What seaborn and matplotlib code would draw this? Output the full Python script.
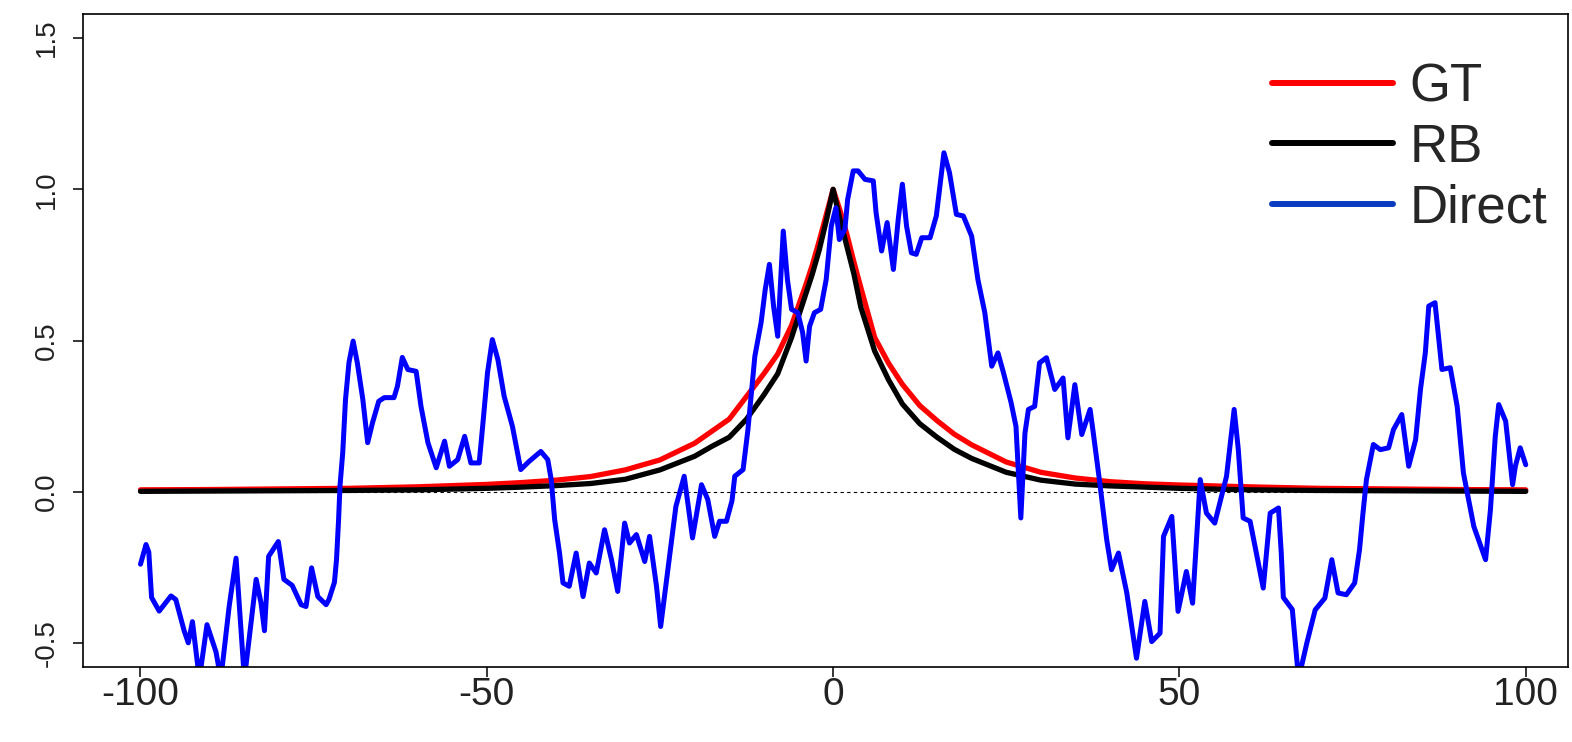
import matplotlib
matplotlib.use("Agg")
import matplotlib.pyplot as plt
from matplotlib.lines import Line2D
import seaborn as sns
import pandas as pd

# ---- data ----
curve_x = [-100, -90, -80, -70, -60, -50, -45, -40, -35, -30, -25, -20, -17.5, -15, -12.5,
           -10, -8, -6, -4, -3, -2, -1, 0, 1, 2, 3, 4, 6, 8, 10, 12.5, 15, 17.5, 20, 25,
           30, 35, 40, 45, 50, 60, 70, 80, 90, 100]
gt_y = [0.006, 0.007, 0.009, 0.011, 0.016, 0.024, 0.030, 0.038, 0.050, 0.072, 0.105, 0.160,
        0.200, 0.240, 0.315, 0.390, 0.455, 0.550, 0.680, 0.750, 0.830, 0.915, 1.000, 0.930,
        0.850, 0.760, 0.675, 0.510, 0.425, 0.355, 0.285, 0.235, 0.190, 0.155, 0.098, 0.064,
        0.045, 0.033, 0.026, 0.022, 0.016, 0.011, 0.009, 0.007, 0.006]
rb_y = [0.001, 0.002, 0.003, 0.004, 0.006, 0.011, 0.015, 0.020, 0.027, 0.041, 0.072, 0.117,
        0.150, 0.180, 0.240, 0.320, 0.390, 0.510, 0.650, 0.720, 0.800, 0.895, 1.000, 0.900,
        0.810, 0.720, 0.610, 0.465, 0.370, 0.290, 0.225, 0.180, 0.140, 0.110, 0.064, 0.038,
        0.025, 0.019, 0.015, 0.011, 0.006, 0.004, 0.003, 0.002, 0.001]

direct_x = [-100.0, -99.2, -98.8, -98.4, -97.3, -95.6, -94.9, -93.7, -93.1, -92.5, -91.5, -90.4,
            -89.1, -88.4, -87.2, -86.2, -85.0, -83.3, -82.6, -82.1, -81.5, -80.1, -79.3, -78.1,
            -76.8, -76.1, -75.3, -74.4, -73.2, -72.8, -72.0, -71.7, -71.4, -71.2, -70.8, -70.4,
            -69.9, -69.3, -68.7, -67.9, -67.2, -66.5, -65.6, -64.8, -63.4, -62.9, -62.2, -61.4,
            -60.2, -59.5, -58.5, -57.3, -56.1, -55.4, -54.2, -53.2, -52.3, -51.1, -50.6, -49.9,
            -49.2, -48.4, -47.5, -46.3, -45.1, -43.9, -42.2, -41.2, -40.7, -40.2, -39.5, -39.0,
            -38.1, -37.1, -36.1, -35.2, -34.2, -33.0, -32.0, -31.1, -30.1, -29.4, -28.4, -27.2,
            -26.5, -25.5, -24.9, -24.1, -22.7, -21.5, -20.3, -19.0, -18.1, -17.1, -16.4, -15.4,
            -14.6, -14.2, -13.0, -12.3, -11.3, -10.4, -9.8, -9.2, -8.6, -8.0, -7.2, -6.6, -6.0,
            -5.1, -4.4, -3.9, -3.4, -2.7, -1.8, -1.0, -0.26, 0.4, 0.9, 1.7, 2.1, 2.9, 3.6, 4.6,
            5.8, 6.2, 7.0, 7.8, 8.7, 9.4, 10.0, 10.6, 11.3, 12.0, 12.8, 14.0, 14.9, 16.0, 16.8,
            17.8, 18.8, 20.0, 20.9, 21.9, 22.9, 23.8, 24.6, 25.7, 26.4, 27.1, 27.7, 28.2, 29.1,
            29.8, 30.8, 32.0, 33.2, 33.9, 34.9, 35.9, 37.1, 37.5, 38.5, 39.5, 40.2, 41.2, 42.4,
            43.8, 45.0, 46.0, 47.2, 47.7, 48.9, 49.8, 51.0, 51.9, 53.0, 53.9, 55.1, 56.8, 57.9,
            58.5, 59.2, 60.2, 62.1, 63.1, 64.3, 64.7, 65.0, 66.3, 67.2, 68.4, 69.6, 71.0, 72.0,
            72.9, 74.1, 75.3, 76.0, 76.5, 77.0, 78.0, 79.0, 80.2, 80.9, 82.1, 83.1, 84.1, 84.8,
            85.5, 86.0, 86.9, 87.9, 89.1, 90.1, 91.0, 92.5, 94.2, 94.9, 95.6, 96.1, 97.1, 98.1,
            98.5, 99.2, 100.0]
direct_y = [-0.240, -0.175, -0.200, -0.350, -0.395, -0.345, -0.357, -0.460, -0.500, -0.430, -0.620,
            -0.440, -0.530, -0.620, -0.380, -0.220, -0.620, -0.290, -0.368, -0.460, -0.214, -0.165,
            -0.290, -0.310, -0.374, -0.380, -0.252, -0.347, -0.374, -0.357, -0.300, -0.225, -0.093,
            0.018, 0.129, 0.305, 0.427, 0.498, 0.427, 0.305, 0.162, 0.228, 0.299, 0.311, 0.311,
            0.349, 0.444, 0.404, 0.398, 0.282, 0.162, 0.079, 0.167, 0.084, 0.106, 0.183, 0.095,
            0.095, 0.216, 0.393, 0.503, 0.437, 0.316, 0.216, 0.073, 0.100, 0.133, 0.106, 0.040,
            -0.093, -0.203, -0.302, -0.313, -0.203, -0.347, -0.236, -0.269, -0.126, -0.225, -0.330,
            -0.104, -0.170, -0.142, -0.231, -0.148, -0.313, -0.446, -0.302, -0.049, 0.051, -0.153,
            0.023, -0.026, -0.148, -0.098, -0.098, -0.030, 0.051, 0.073, 0.205, 0.448, 0.559, 0.669,
            0.752, 0.614, 0.514, 0.862, 0.702, 0.603, 0.592, 0.526, 0.432, 0.547, 0.592, 0.603,
            0.702, 0.879, 0.939, 0.834, 0.868, 0.967, 1.061, 1.061, 1.033, 1.028, 0.923, 0.796,
            0.890, 0.735, 0.901, 1.017, 0.879, 0.790, 0.785, 0.840, 0.840, 0.912, 1.121, 1.055,
            0.917, 0.912, 0.845, 0.702, 0.592, 0.415, 0.459, 0.393, 0.294, 0.216, -0.087, 0.194,
            0.272, 0.282, 0.426, 0.443, 0.338, 0.376, 0.178, 0.354, 0.189, 0.272, 0.205, 0.029,
            -0.159, -0.258, -0.203, -0.335, -0.551, -0.363, -0.496, -0.468, -0.148, -0.082, -0.396,
            -0.264, -0.369, 0.040, -0.071, -0.104, 0.051, 0.272, 0.139, -0.087, -0.098, -0.319,
            -0.071, -0.054, -0.203, -0.350, -0.390, -0.620, -0.500, -0.391, -0.352, -0.225, -0.335,
            -0.341, -0.302, -0.192, -0.071, 0.040, 0.156, 0.139, 0.145, 0.205, 0.255, 0.084, 0.172,
            0.338, 0.459, 0.614, 0.625, 0.404, 0.410, 0.282, 0.062, -0.115, -0.225, -0.060, 0.183,
            0.288, 0.233, 0.023, 0.084, 0.145, 0.089]

series_names = ["GT", "RB", "Direct"]
x_ticks = [-100, -50, 0, 50, 100]
y_ticks = [-0.5, 0.0, 0.5, 1.0, 1.5]
y_tick_labels = ["-0.5", "0.0", "0.5", "1.0", "1.5"]

# ---- style ----
sns.set_style("white")
plt.rcParams["font.family"] = ["Liberation Sans", "DejaVu Sans"]

fig = plt.figure(figsize=(15.72, 7.42), dpi=100)
ax = fig.add_axes([83 / 1572, 1 - 667 / 742, (1568 - 83) / 1572, (667 - 14) / 742])

curves = pd.DataFrame({"x": curve_x, "GT": gt_y, "RB": rb_y})
direct = pd.DataFrame({"x": direct_x, "Direct": direct_y})

# zero reference line (dotted) across the data range
zero_df = pd.DataFrame({"x": [min(curve_x), max(curve_x)], "y": [0.0, 0.0]})
sns.lineplot(data=zero_df, x="x", y="y", ax=ax, color="black", lw=0.8,
             linestyle=(0, (3, 3)), estimator=None, legend=False)

sns.lineplot(data=curves, x="x", y="GT", ax=ax, color="#ff0000", lw=3.8,
             estimator=None, legend=False)
sns.lineplot(data=curves, x="x", y="RB", ax=ax, color="#000000", lw=3.8,
             estimator=None, legend=False)
sns.lineplot(data=direct, x="x", y="Direct", ax=ax, color="#0000ff", lw=3.6,
             estimator=None, legend=False)

ax.set_xlim(-108.3, 106.1)
ax.set_ylim(-0.58, 1.58)
ax.set_xticks(x_ticks)
ax.set_xticklabels([str(v) for v in x_ticks])
ax.set_yticks(y_ticks)
ax.set_yticklabels(y_tick_labels, rotation=90, va="center")
ax.set_xlabel("")
ax.set_ylabel("")

for s in ax.spines.values():
    s.set_color("black")
    s.set_linewidth(1.2)
ax.tick_params(axis="both", which="major", direction="out", length=7, width=1.1,
               color="black", labelcolor="#222222", bottom=True, left=True)
ax.tick_params(axis="x", pad=0.3, labelsize=28)
ax.tick_params(axis="y", pad=10, labelsize=20)

handles = [Line2D([], [], color="#ff0000", lw=4.3),
           Line2D([], [], color="#000000", lw=4.3),
           Line2D([], [], color="#0a3cc0", lw=4.3)]
fig.legend(handles, series_names, loc="upper left", bbox_to_anchor=(1272 / 1572, 1 - 62 / 742),
           frameon=False, fontsize=38, handlelength=2.3, handletextpad=0.3,
           labelspacing=0.2, borderpad=0, borderaxespad=0)

fig.savefig("out.png", dpi=100)
